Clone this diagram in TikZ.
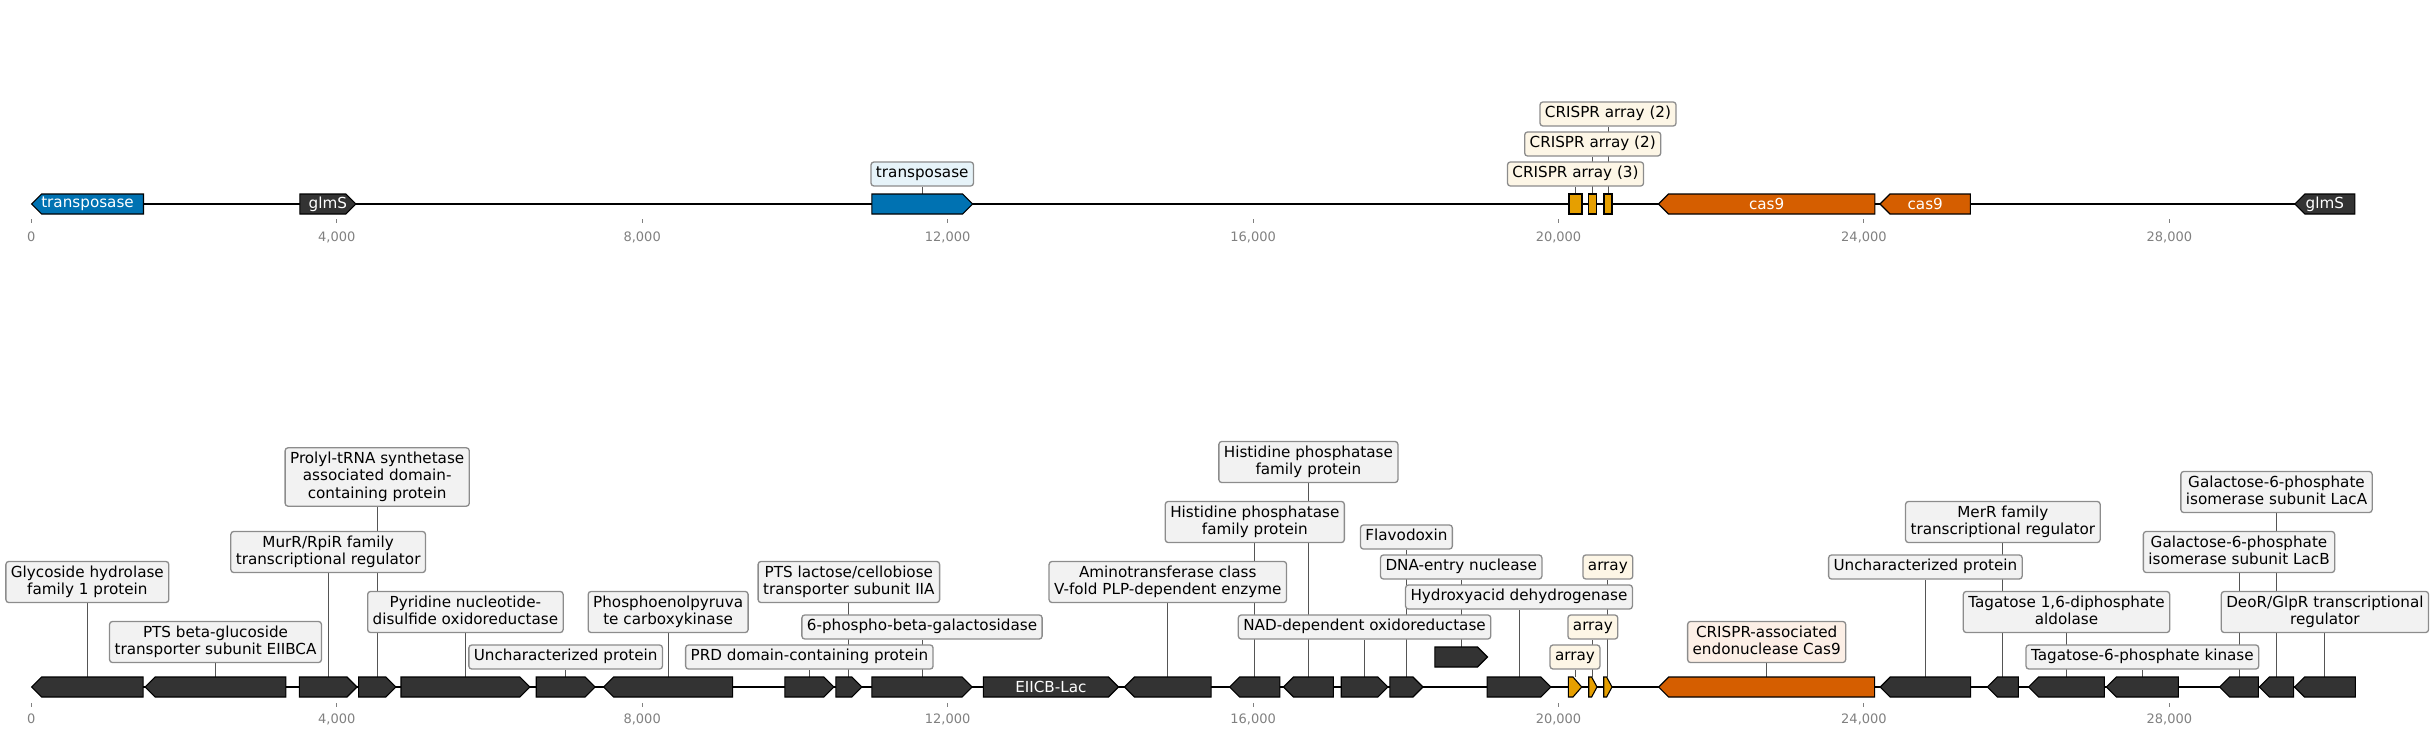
\documentclass[tikz,border=0pt]{standalone}
\usepackage{fontspec}
\setmainfont{DejaVu Sans}
\pgfdeclarelayer{bg}
\pgfsetlayers{bg,main}
\definecolor{gdark}{HTML}{333333}
\definecolor{gblue}{HTML}{0072B2}
\definecolor{gorange}{HTML}{D55E00}
\definecolor{gyellow}{HTML}{E69F00}
\definecolor{lgray}{HTML}{F2F2F2}
\definecolor{lblue}{HTML}{E6F3F9}
\definecolor{lcream}{HTML}{FDF6E6}
\definecolor{lpeach}{HTML}{FCEFE6}
\definecolor{labborder}{HTML}{8C8C8C}
\definecolor{conngray}{HTML}{555555}
\definecolor{tickgray}{HTML}{808080}
\newcommand\lst{\rule[-3.9pt]{0pt}{15.7pt}}
\tikzset{
  genebody/.style={draw=black, line width=1.1pt, line join=miter},
  lab/.style={draw=labborder, line width=1.3pt, rounded corners=3pt, inner xsep=5pt, inner ysep=4.2pt,
    align=center, font=\fontsize{15.2}{17.3}\selectfont, execute at begin node=\lst, execute at end node=\lst},
  gtext/.style={text=white, font=\fontsize{15.2}{17.3}\selectfont, inner sep=0pt},
  conn/.style={draw=conngray, line width=0.9pt},
  backbone/.style={line width=2.5pt, draw=black},
  tickmark/.style={draw=tickgray, line width=1pt},
  ticklab/.style={text=tickgray, font=\fontsize{13}{15}\selectfont, inner sep=0pt},
}
% right-pointing gene
\newcommand\gR[5]{%
  \pgfmathsetmacro\gh{min(10,0.65*(#3-#2))}%
  \pgfmathsetmacro\gm{#3-\gh}%
  \pgfmathsetmacro\gc{(#2+#3)/2}%
  \draw[genebody,fill=#5] (#2,#4-10) -- (\gm,#4-10) -- (#3,#4) -- (\gm,#4+10) -- (#2,#4+10) -- cycle;%
  \coordinate (#1) at (\gc,#4-10);%
  \coordinate (#1c) at (\gc,#4);}
% left-pointing gene
\newcommand\gL[5]{%
  \pgfmathsetmacro\gh{min(10,0.65*(#3-#2))}%
  \pgfmathsetmacro\gm{#2+\gh}%
  \pgfmathsetmacro\gc{(#2+#3)/2}%
  \draw[genebody,fill=#5] (#2,#4) -- (\gm,#4-10) -- (#3,#4-10) -- (#3,#4+10) -- (\gm,#4+10) -- cycle;%
  \coordinate (#1) at (\gc,#4-10);%
  \coordinate (#1c) at (\gc,#4);}
% box feature (no strand)
\newcommand\gB[5]{%
  \pgfmathsetmacro\gc{(#2+#3)/2}%
  \draw[genebody,fill=#5] (#2,#4-10) rectangle (#3,#4+10);%
  \coordinate (#1) at (\gc,#4-10);%
  \coordinate (#1c) at (\gc,#4);}
% label box with connector
\newcommand\lab[4]{%
  \node[lab,fill=#3] (#1l) at (#1 |- 0,#2) {#4};%
  \begin{pgfonlayer}{bg}\draw[conn] (#1l.south) -- (#1);\end{pgfonlayer}}
\begin{document}
\begin{tikzpicture}[x=1pt,y=-1pt]
\useasboundingbox (0,0) rectangle (2434,736);
% backbones
\begin{pgfonlayer}{bg}
\coordinate (topA) at (31.6,204);
\coordinate (topB) at (2355,204);
\coordinate (botA) at (31.6,687);
\coordinate (botB) at (2355,687);
\draw[backbone] (topA) -- (topB);
\draw[backbone] (botA) -- (botB);
\end{pgfonlayer}
% axes
\foreach \v/\t [count=\i] in {0/0,4/{4,000},8/{8,000},12/{12,000},16/{16,000},20/{20,000},24/{24,000},28/{28,000}}{
  \pgfmathsetmacro\xx{31.3+76.36*\v}
  \coordinate (ta\i) at (\xx,219);
  \coordinate (tb\i) at (\xx,223);
  \draw[tickmark] (ta\i) -- (tb\i);
  \node[ticklab] (tl\i) at (\xx,237) {\t};
  \coordinate (ba\i) at (\xx,703);
  \coordinate (bb\i) at (\xx,707);
  \draw[tickmark] (ba\i) -- (bb\i);
  \node[ticklab] (bl\i) at (\xx,719) {\t};
}
% ---------- top track ----------
\gL{t1}{31.6}{143.5}{204}{gblue}
\node[gtext] (t1t) at (t1c) {transposase};
\gR{t2}{299.8}{355.9}{204}{gdark}
\node[gtext] (t2t) at (t2c) {glmS};
\gR{t3}{871.9}{972.6}{204}{gblue}
\lab{t3}{174}{lblue}{transposase}
\gB{t4}{1569}{1582}{204}{gyellow}
\gB{t5}{1588.7}{1596.7}{204}{gyellow}
\gB{t6}{1604}{1612}{204}{gyellow}
\lab{t4}{174}{lcream}{CRISPR array (3)}
\lab{t5}{144}{lcream}{CRISPR array (2)}
\lab{t6}{114}{lcream}{CRISPR array (2)}
\gL{t7}{1658.5}{1874.8}{204}{gorange}
\node[gtext] (t7t) at (t7c) {cas9};
\gL{t8}{1880}{1970.4}{204}{gorange}
\node[gtext] (t8t) at (t8c) {cas9};
\gL{t9}{2294.8}{2354.8}{204}{gdark}
\node[gtext] (t9t) at (t9c) {glmS};
% ---------- bottom track ----------
\gL{b1}{31.6}{143.1}{687}{gdark}
\gL{b2}{145.1}{285.9}{687}{gdark}
\gR{b3}{299.3}{357}{687}{gdark}
\gR{b4}{358.6}{395.8}{687}{gdark}
\gR{b5}{401}{529.8}{687}{gdark}
\gR{b6}{536.2}{595.1}{687}{gdark}
\gL{b7}{603.7}{732.6}{687}{gdark}
\gR{b8}{784.8}{833.9}{687}{gdark}
\gR{b9}{835.8}{861.9}{687}{gdark}
\gR{b10}{871.8}{972.2}{687}{gdark}
\gR{b11}{983.3}{1118.5}{687}{gdark}
\node[gtext] (b11t) at (b11c) {EIICB-Lac};
\gL{b12}{1124.5}{1211.1}{687}{gdark}
\gL{b13}{1229.7}{1279.9}{687}{gdark}
\gL{b14}{1283.5}{1333.3}{687}{gdark}
\gR{b15}{1341.2}{1387.9}{687}{gdark}
\gR{b16}{1389.8}{1423}{687}{gdark}
\gR{b17}{1434.9}{1487.5}{657}{gdark}
\gR{b18}{1487.1}{1550.8}{687}{gdark}
\gR{a1}{1568.3}{1581.7}{687}{gyellow}
\gR{a2}{1588.7}{1597}{687}{gyellow}
\gR{a3}{1603.7}{1612}{687}{gyellow}
\gL{b19}{1658.7}{1874.6}{687}{gorange}
\gL{b20}{1880.2}{1970.6}{687}{gdark}
\gL{b21}{1987.4}{2018.3}{687}{gdark}
\gL{b22}{2028.6}{2104.4}{687}{gdark}
\gL{b23}{2106.3}{2178.4}{687}{gdark}
\gL{b24}{2219.6}{2258.4}{687}{gdark}
\gL{b25}{2259.4}{2293.6}{687}{gdark}
\gL{b26}{2294.5}{2355.3}{687}{gdark}
% labels
\lab{b1}{582}{lgray}{Glycoside hydrolase\\family 1 protein}
\lab{b2}{642}{lgray}{PTS beta-glucoside\\transporter subunit EIIBCA}
\lab{b3}{552}{lgray}{MurR/RpiR family\\transcriptional regulator}
\lab{b4}{477}{lgray}{Prolyl-tRNA synthetase\\associated domain-\\containing protein}
\lab{b5}{612}{lgray}{Pyridine nucleotide-\\disulfide oxidoreductase}
\lab{b6}{657}{lgray}{Uncharacterized protein}
\lab{b7}{612}{lgray}{Phosphoenolpyruva\\te carboxykinase}
\lab{b8}{657}{lgray}{PRD domain-containing protein}
\lab{b9}{582}{lgray}{PTS lactose/cellobiose\\transporter subunit IIA}
\lab{b10}{627}{lgray}{6-phospho-beta-galactosidase}
\lab{b12}{582}{lgray}{Aminotransferase class\\V-fold PLP-dependent enzyme}
\lab{b13}{522}{lgray}{Histidine phosphatase\\family protein}
\lab{b14}{462}{lgray}{Histidine phosphatase\\family protein}
\lab{b15}{627}{lgray}{NAD-dependent oxidoreductase}
\lab{b16}{537}{lgray}{Flavodoxin}
\lab{b17}{567}{lgray}{DNA-entry nuclease}
\lab{b18}{597}{lgray}{Hydroxyacid dehydrogenase}
\lab{a1}{657}{lcream}{array}
\lab{a2}{627}{lcream}{array}
\lab{a3}{567}{lcream}{array}
\lab{b19}{642}{lpeach}{CRISPR-associated\\endonuclease Cas9}
\lab{b20}{567}{lgray}{Uncharacterized protein}
\lab{b21}{522}{lgray}{MerR family\\transcriptional regulator}
\lab{b22}{612}{lgray}{Tagatose 1,6-diphosphate\\aldolase}
\lab{b23}{657}{lgray}{Tagatose-6-phosphate kinase}
\lab{b24}{552}{lgray}{Galactose-6-phosphate\\isomerase subunit LacB}
\lab{b25}{492}{lgray}{Galactose-6-phosphate\\isomerase subunit LacA}
\lab{b26}{612}{lgray}{DeoR/GlpR transcriptional\\regulator}
\end{tikzpicture}
\end{document}
